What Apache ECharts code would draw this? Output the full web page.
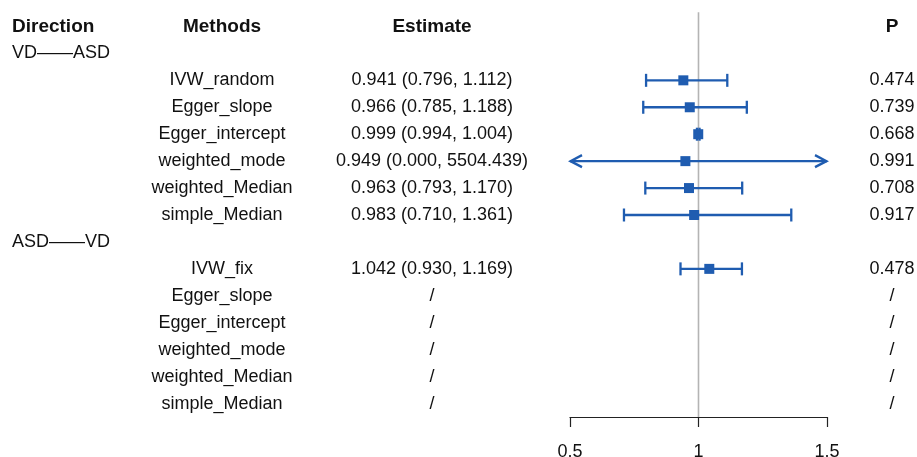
<!DOCTYPE html>
<html>
<head>
<meta charset="utf-8">
<script src="https://cdn.jsdelivr.net/npm/echarts@6/dist/echarts.min.js"></script>
<style>
html,body{margin:0;padding:0;background:#fff;}
#chart{width:917px;height:457px;}
</style>
</head>
<body>
<div id="chart"></div>
<script>
// ---- data ----
const headers = ['Direction', 'Methods', 'Estimate', 'P'];
const groupLabels = ['VD——ASD', 'ASD——VD'];
const groupRows = [1, 8];
const methods = ['IVW_random', 'Egger_slope', 'Egger_intercept', 'weighted_mode', 'weighted_Median', 'simple_Median',
                 'IVW_fix', 'Egger_slope', 'Egger_intercept', 'weighted_mode', 'weighted_Median', 'simple_Median'];
const methodRows = [2, 3, 4, 5, 6, 7, 9, 10, 11, 12, 13, 14];
const estimateText = ['0.941 (0.796, 1.112)', '0.966 (0.785, 1.188)', '0.999 (0.994, 1.004)', '0.949 (0.000, 5504.439)',
                      '0.963 (0.793, 1.170)', '0.983 (0.710, 1.361)', '1.042 (0.930, 1.169)', '/', '/', '/', '/', '/'];
const pText = ['0.474', '0.739', '0.668', '0.991', '0.708', '0.917', '0.478', '/', '/', '/', '/', '/'];
// forest marks
const forestRows = [2, 3, 4, 5, 6, 7, 9];
const est = [0.941, 0.966, 0.999, 0.949, 0.963, 0.983, 1.042];
const lower = [0.796, 0.785, 0.994, 0.000, 0.793, 0.710, 0.930];
const upper = [1.112, 1.188, 1.004, 5504.439, 1.170, 1.361, 1.169];
const xTicks = [0.5, 1, 1.5];
const refValue = 1;

const XMIN = 0.5, XMAX = 1.5;
const BLUE = '#1f5cb0';
const FONT = "'Liberation Sans', Arial, sans-serif";
const FS = 18;
const TXT = '#111';

const chart = echarts.init(document.getElementById('chart'), null, {renderer: 'canvas'});

const yAxisBase = {type: 'value', min: -0.5, max: 14.5, inverse: true, show: false};
const gridBase = {top: 13, bottom: 40, containLabel: false, outerBoundsMode: 'none'};

const cols = [
  {left: 12, width: 100, align: 'left', xv: 0},
  {left: 172, width: 100, align: 'center', xv: 0.5},
  {left: 382, width: 100, align: 'center', xv: 0.5},
  {left: 867, width: 50, align: 'center', xv: 0.5}
];

const grids = [Object.assign({left: 570, right: 90}, gridBase)];
const xAxes = [{
  type: 'value', min: XMIN, max: XMAX, interval: 0.5, gridIndex: 0,
  axisLine: {show: true, onZero: false, lineStyle: {color: '#222', width: 1.2}},
  axisTick: {show: true, inside: false, length: 10, lineStyle: {color: '#222', width: 1.2}},
  splitLine: {show: false},
  axisLabel: {fontFamily: FONT, fontSize: FS, color: TXT, margin: 26,
              formatter: v => (xTicks.indexOf(v) >= 0 ? String(v) : '')}
}];
const yAxes = [Object.assign({gridIndex: 0}, yAxisBase)];

cols.forEach((c, i) => {
  grids.push(Object.assign({left: c.left, width: c.width}, gridBase));
  xAxes.push({type: 'value', min: 0, max: 1, gridIndex: i + 1, show: false});
  yAxes.push(Object.assign({gridIndex: i + 1}, yAxisBase));
});

function textSeries(colIdx, items) {
  const c = cols[colIdx];
  return {
    type: 'custom',
    xAxisIndex: colIdx + 1, yAxisIndex: colIdx + 1,
    clip: false, silent: true,
    data: items,
    renderItem: function (params, api) {
      const p = api.coord([c.xv, api.value(0)]);
      const it = items[params.dataIndex];
      return {
        type: 'text',
        x: p[0], y: p[1],
        style: {
          text: it.text, fill: TXT,
          font: (it.bold ? 'bold ' : '') + (it.bold ? 19 : FS) + 'px ' + FONT,
          textAlign: c.align, textVerticalAlign: 'middle'
        }
      };
    }
  };
}

const col0 = [{value: [0], text: headers[0], bold: true}]
  .concat(groupLabels.map((g, i) => ({value: [groupRows[i]], text: g})));
const col1 = [{value: [0], text: headers[1], bold: true}]
  .concat(methods.map((m, i) => ({value: [methodRows[i]], text: m})));
const col2 = [{value: [0], text: headers[2], bold: true}]
  .concat(estimateText.map((m, i) => ({value: [methodRows[i]], text: m})));
const col3 = [{value: [0], text: headers[3], bold: true}]
  .concat(pText.map((m, i) => ({value: [methodRows[i]], text: m})));

const forestData = forestRows.map((r, i) => [r, est[i], lower[i], upper[i]]);

const option = {
  animation: false,
  backgroundColor: '#fff',
  grid: grids,
  xAxis: xAxes,
  yAxis: yAxes,
  series: [
    {
      type: 'line',
      xAxisIndex: 0, yAxisIndex: 0,
      silent: true, symbol: 'none',
      lineStyle: {color: '#b4b4b4', width: 1.6},
      data: [[refValue, -0.55], [refValue, 14.5]],
      z: 1
    },
    {
      type: 'custom',
      xAxisIndex: 0, yAxisIndex: 0,
      clip: false, silent: true,
      data: forestData,
      z: 3,
      renderItem: function (params, api) {
        const y = api.value(0), e = api.value(1), lo = api.value(2), hi = api.value(3);
        const loC = Math.max(lo, XMIN), hiC = Math.min(hi, XMAX);
        const p0 = api.coord([loC, y]), p1 = api.coord([hiC, y]), pe = api.coord([e, y]);
        const ls = {stroke: BLUE, lineWidth: 2.3, fill: null};
        const ch = [];
        ch.push({type: 'line', shape: {x1: p0[0], y1: p0[1], x2: p1[0], y2: p1[1]}, style: ls});
        if (lo < XMIN) {
          ch.push({type: 'polyline', shape: {points: [[p0[0] + 12, p0[1] - 6], [p0[0] + 0.5, p0[1]], [p0[0] + 12, p0[1] + 6]]}, style: ls});
        } else {
          ch.push({type: 'line', shape: {x1: p0[0], y1: p0[1] - 6.5, x2: p0[0], y2: p0[1] + 6.5}, style: ls});
        }
        if (hi > XMAX) {
          ch.push({type: 'polyline', shape: {points: [[p1[0] - 12, p1[1] - 6], [p1[0] - 0.5, p1[1]], [p1[0] - 12, p1[1] + 6]]}, style: ls});
        } else {
          ch.push({type: 'line', shape: {x1: p1[0], y1: p1[1] - 6.5, x2: p1[0], y2: p1[1] + 6.5}, style: ls});
        }
        ch.push({type: 'rect', shape: {x: pe[0] - 5, y: pe[1] - 5, width: 10, height: 10}, style: {fill: BLUE}});
        return {type: 'group', children: ch};
      }
    },
    textSeries(0, col0),
    textSeries(1, col1),
    textSeries(2, col2),
    textSeries(3, col3)
  ]
};
chart.setOption(option);
</script>
</body>
</html>
